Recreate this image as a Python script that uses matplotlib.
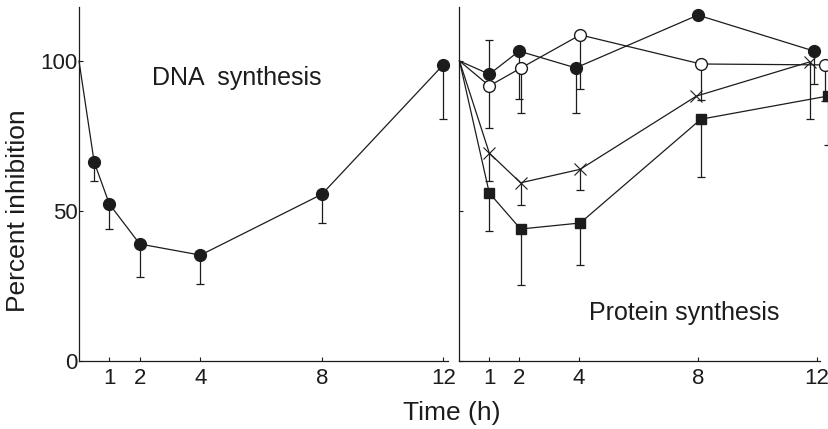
import matplotlib
matplotlib.use("Agg")
import matplotlib.pyplot as plt

plt.rcParams['font.family'] = ['Liberation Sans', 'DejaVu Sans']

ink = '#1c1c1c'

# DNA synthesis (left panel)
dna_t = [0, 0.5, 1, 2, 4, 8, 12]
dna_y = [100, 66.3, 52.3, 39, 35.3, 55.6, 98.8]
dna_lo = [0, 6.3, 8.3, 11, 9.7, 9.6, 18]
dna_hi = [0, 0, 0, 0, 0, 0, 0]

# Protein synthesis (right panel), four series
fc_t = [0, 1, 2, 3.9, 8.0, 11.9]
fc_y = [100, 95.6, 103.3, 97.7, 115.3, 103.3]
fc_lo = [0, 0, 16, 15, 0, 11]
fc_hi = [0, 11.4, 0, 0, 0, 0]

oc_t = [0, 1, 2.05, 4.05, 8.1, 12.25]
oc_y = [100, 91.7, 97.6, 108.7, 99, 98.7]
oc_lo = [0, 14, 15, 18, 12, 12]
oc_hi = [0, 0, 0, 0, 0, 0]

x_t = [0, 1, 2.05, 4.05, 7.95, 11.75]
x_y = [100, 69.3, 59.4, 63.9, 88.3, 99.7]
x_lo = [0, 9.3, 7.4, 7, 0, 19]
x_hi = [0, 0, 0, 0, 0, 0]

sq_t = [0, 1, 2.05, 4.05, 8.1, 12.35]
sq_y = [100, 56, 44, 46, 80.6, 88.3]
sq_lo = [0, 12.7, 18.7, 14, 19.2, 16.3]
sq_hi = [0, 0, 0, 0, 0, 0]

tick_pos = [1, 2, 4, 8, 12]
tick_lab = ['1', '2', '4', '8', '12']
y_ticks = [0, 50, 100]

fig = plt.figure(figsize=(8.29, 4.29), dpi=100)
ax1 = fig.add_axes([79 / 829, 68 / 429, 369 / 829, 354 / 429])
ax2 = fig.add_axes([459.5 / 829, 68 / 429, 360.6 / 829, 354 / 429])


def style(ax, xmax):
    ax.set_xlim(0, xmax)
    ax.set_ylim(0, 118)
    for s in ['top', 'right']:
        ax.spines[s].set_visible(False)
    for s in ['left', 'bottom']:
        ax.spines[s].set_linewidth(0.9)
        ax.spines[s].set_color(ink)
    ax.set_xticks(tick_pos)
    ax.set_xticklabels(tick_lab)
    ax.tick_params(axis='x', direction='in', length=3, width=0.8, pad=5,
                   labelsize=16, colors=ink)
    ax.tick_params(axis='y', direction='in', length=3, width=0.8, pad=1,
                   labelsize=16, colors=ink)
    ax.set_yticks(y_ticks)


def series(ax, t, y, lo, hi, marker, ms, mfc, mew=1.0):
    # one-sided error bars with caps, skip the empty ones
    for ti, yi, a, b in zip(t, y, lo, hi):
        for end in ([yi - a] if a > 0 else []) + ([yi + b] if b > 0 else []):
            ax.vlines(ti, yi, end, color=ink, lw=0.9, zorder=2, clip_on=False)
            ax.plot([ti], [end], marker='_', ms=6, mew=0.9, color=ink,
                    zorder=2, clip_on=False)
    ax.plot(t, y, color=ink, lw=0.9, zorder=3, clip_on=False)
    ax.plot(t[1:], y[1:], ls='none', marker=marker, ms=ms, mfc=mfc,
            mec=ink, mew=mew, zorder=4, clip_on=False)


style(ax1, 12.15)
series(ax1, dna_t, dna_y, dna_lo, dna_hi, 'o', 8.5, ink)
ax1.text(5.2, 94.3, 'DNA  synthesis', fontsize=18, color=ink,
         ha='center', va='center')

style(ax2, 12.1)
ax2.set_yticklabels([])
series(ax2, fc_t, fc_y, fc_lo, fc_hi, 'o', 8.5, ink)
series(ax2, oc_t, oc_y, oc_lo, oc_hi, 'o', 8.5, 'white')
series(ax2, x_t, x_y, x_lo, x_hi, 'x', 9, 'none', mew=0.8)
series(ax2, sq_t, sq_y, sq_lo, sq_hi, 's', 7, ink)
ax2.text(7.53, 16, 'Protein synthesis', fontsize=18, color=ink,
         ha='center', va='center')

fig.text(18 / 829, 1 - 211 / 429, 'Percent inhibition', rotation=90,
         fontsize=19, color=ink, ha='center', va='center')
fig.text(452 / 829, 1 - 413 / 429, 'Time (h)', fontsize=19, color=ink,
         ha='center', va='center')

fig.savefig('out.png', dpi=100)
